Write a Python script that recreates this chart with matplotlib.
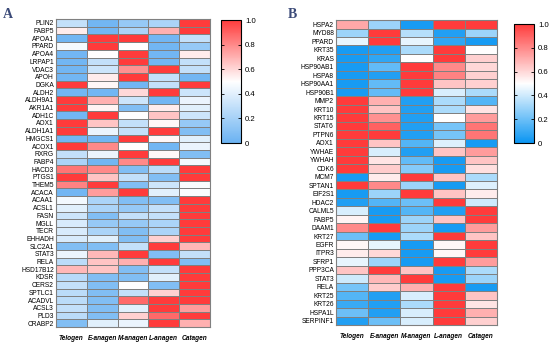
import numpy as np
import matplotlib
matplotlib.use("Agg")
import matplotlib.pyplot as plt
from matplotlib.colors import LinearSegmentedColormap

plt.rcParams["font.family"] = ["Liberation Sans", "DejaVu Sans"]

# ---------------- DATA ----------------
stages = ["Telogen", "E-anagen", "M-anagen", "L-anagen", "Catagen"]

genes_a = ["PLIN2", "FABP5", "APOA1", "PPARD", "APOA4", "LRPAP1", "VDAC3", "APOH",
           "DGKA", "ALDH2", "ALDH9A1", "AKR1A1", "ADH1C", "AOX1", "ALDH1A1", "HMGCS1",
           "ACOX1", "RXRG", "FABP4", "HACD3", "PTGS1", "THEM5", "ACACA", "ACAA1",
           "ACSL1", "FASN", "MGLL", "TECR", "EHHADH", "SLC2A1", "STAT3", "RELA",
           "HSD17B12", "KDSR", "CERS2", "SPTLC1", "ACADVL", "ACSL3", "PLD3", "CRABP2"]

values_a = [
    [0.30, 0.03, 0.15, 0.22, 1.00],
    [0.55, 0.03, 0.22, 0.70, 1.00],
    [0.03, 1.00, 1.00, 0.03, 0.30],
    [0.47, 1.00, 0.50, 0.03, 0.15],
    [0.03, 0.50, 1.00, 0.03, 0.55],
    [0.03, 0.30, 1.00, 0.03, 0.30],
    [0.03, 0.33, 0.78, 1.00, 0.30],
    [0.03, 0.55, 1.00, 0.30, 0.03],
    [1.00, 0.52, 0.03, 0.30, 1.00],
    [0.03, 0.03, 0.60, 1.00, 0.33],
    [1.00, 0.70, 0.33, 0.03, 0.43],
    [1.00, 0.53, 0.08, 0.55, 0.40],
    [0.03, 1.00, 0.50, 0.65, 0.33],
    [1.00, 0.65, 0.30, 0.52, 0.15],
    [1.00, 0.43, 0.30, 1.00, 0.08],
    [0.03, 0.03, 1.00, 0.52, 0.40],
    [1.00, 0.80, 0.50, 0.03, 0.43],
    [0.30, 0.43, 1.00, 0.52, 0.08],
    [0.22, 0.03, 0.80, 1.00, 0.46],
    [0.85, 0.80, 0.08, 0.27, 1.00],
    [1.00, 0.65, 0.30, 0.08, 1.00],
    [0.82, 1.00, 0.08, 0.33, 0.48],
    [0.03, 0.75, 1.00, 0.40, 0.48],
    [0.46, 0.22, 0.08, 0.08, 1.00],
    [0.40, 0.22, 0.15, 0.30, 1.00],
    [0.33, 0.08, 0.30, 0.30, 1.00],
    [0.37, 0.15, 0.15, 0.22, 1.00],
    [0.37, 0.22, 0.08, 0.22, 1.00],
    [0.37, 0.40, 0.08, 0.62, 1.00],
    [0.08, 0.08, 0.30, 1.00, 0.68],
    [0.43, 0.68, 1.00, 0.08, 0.30],
    [0.27, 0.65, 0.70, 1.00, 0.08],
    [0.68, 0.65, 0.08, 0.30, 1.00],
    [0.26, 0.08, 0.08, 0.40, 1.00],
    [0.30, 0.08, 0.50, 0.08, 1.00],
    [0.27, 0.08, 0.30, 0.62, 1.00],
    [0.27, 0.08, 0.88, 1.00, 1.00],
    [0.30, 0.08, 0.40, 1.00, 0.75],
    [0.27, 0.08, 0.62, 0.88, 1.00],
    [0.08, 0.40, 0.43, 1.00, 0.70],
]

genes_b = ["HSPA2", "MYD88", "PPARD", "KRT35", "KRAS", "HSP90AB1", "HSPA8", "HSP90AA1",
           "HSP90B1", "MMP2", "KRT10", "KRT15", "STAT6", "PTPN6", "AOX1", "YWHAE",
           "YWHAH", "CDK6", "MCM7", "SPTAN1", "EIF2S1", "HDAC2", "CALML5", "FABP5",
           "DAAM1", "KRT27", "EGFR", "ITPR3", "SFRP1", "PPP3CA", "STAT3", "RELA",
           "KRT25", "KRT26", "HSPA1L", "SERPINF1"]

values_b = [
    [0.72, 0.30, 0.03, 1.00, 1.00],
    [0.30, 1.00, 0.35, 0.05, 0.30],
    [0.45, 1.00, 0.45, 0.08, 0.03],
    [0.03, 0.05, 0.33, 1.00, 0.50],
    [0.03, 0.08, 0.50, 1.00, 0.62],
    [0.03, 0.18, 1.00, 0.80, 0.60],
    [0.03, 0.05, 1.00, 0.82, 0.62],
    [0.03, 0.18, 1.00, 0.65, 0.62],
    [0.03, 0.18, 1.00, 0.42, 0.33],
    [1.00, 0.70, 0.05, 0.33, 0.15],
    [1.00, 0.65, 0.05, 0.33, 0.57],
    [1.00, 0.78, 0.05, 0.50, 0.75],
    [1.00, 0.90, 0.05, 0.22, 0.85],
    [1.00, 1.00, 0.05, 0.22, 0.85],
    [1.00, 0.65, 0.15, 0.43, 0.03],
    [1.00, 0.42, 0.05, 0.65, 0.75],
    [1.00, 0.57, 0.18, 0.03, 0.65],
    [1.00, 0.63, 0.25, 0.03, 0.58],
    [0.03, 0.55, 1.00, 0.65, 0.33],
    [1.00, 0.80, 0.30, 0.03, 0.43],
    [0.03, 0.30, 1.00, 0.65, 0.55],
    [0.05, 0.15, 0.20, 1.00, 0.40],
    [0.42, 0.03, 0.15, 0.05, 1.00],
    [0.53, 0.03, 0.30, 0.65, 1.00],
    [0.80, 1.00, 0.30, 0.03, 0.75],
    [0.20, 0.03, 0.33, 1.00, 0.65],
    [0.52, 0.45, 0.03, 0.52, 1.00],
    [0.55, 0.60, 0.03, 0.52, 1.00],
    [0.45, 0.30, 0.03, 1.00, 0.75],
    [0.65, 1.00, 0.65, 0.03, 0.33],
    [0.40, 0.68, 1.00, 0.03, 0.30],
    [0.22, 0.63, 0.70, 1.00, 0.03],
    [0.15, 0.05, 0.42, 1.00, 0.65],
    [0.10, 0.05, 0.33, 1.00, 0.57],
    [0.20, 0.05, 0.42, 1.00, 0.70],
    [0.05, 0.20, 0.42, 1.00, 0.62],
]

cbar_ticks = [0, 0.2, 0.4, 0.6, 0.8, 1.0]
cbar_labels = ["0", "0.2", "0.4", "0.6", "0.8", "1.0"]
# --------------------------------------

cmap_a = LinearSegmentedColormap.from_list("a", ["#6AB2F2", "#FFFFFF", "#FF3B3B"])
cmap_b = LinearSegmentedColormap.from_list("b", ["#0A95F2", "#FFFFFF", "#FF3B3B"])

fig = plt.figure(figsize=(5.5, 3.43), dpi=100)


def draw_panel(rect, cbar_rect, genes, values, cmap, letter, letter_xy):
    ax = fig.add_axes(rect)
    data = np.array(values)
    mesh = ax.pcolormesh(data, cmap=cmap, vmin=0, vmax=1,
                         edgecolors="#808080", linewidth=0.5)
    ax.set_xlim(0, len(stages))
    ax.set_ylim(len(genes), 0)
    ax.set_yticks(np.arange(len(genes)) + 0.5)
    ax.set_yticklabels(genes, fontsize=4.8)
    ax.set_xticks(np.arange(len(stages)) + 0.5)
    ax.set_xticklabels(stages, fontsize=4.7, fontweight="bold", style="italic")
    ax.tick_params(length=0, pad=1.5)
    ax.tick_params(axis="x", pad=6)
    for s in ax.spines.values():
        s.set_color("#808080")
        s.set_linewidth(0.8)

    cax = fig.add_axes(cbar_rect)
    cb = fig.colorbar(mesh, cax=cax, ticks=cbar_ticks)
    cb.ax.set_yticklabels(cbar_labels, fontsize=5.6)
    cb.ax.tick_params(direction="in", left=True, right=True, length=2,
                      width=0.6, pad=3)
    cb.outline.set_linewidth(0.8)

    fig.text(letter_xy[0], letter_xy[1], letter, fontsize=10, fontweight="bold",
             family=["Liberation Serif", "DejaVu Serif"], color="#3b4a78",
             ha="left", va="top")


draw_panel([0.1018, 0.0466, 0.28, 0.898], [0.4018, 0.583, 0.0364, 0.3586],
           genes_a, values_a, cmap_a, "A", (0.006, 0.978))
draw_panel([0.6109, 0.0525, 0.2927, 0.889], [0.9345, 0.583, 0.0364, 0.347],
           genes_b, values_b, cmap_b, "B", (0.523, 0.978))

fig.savefig("out.png", dpi=100)
